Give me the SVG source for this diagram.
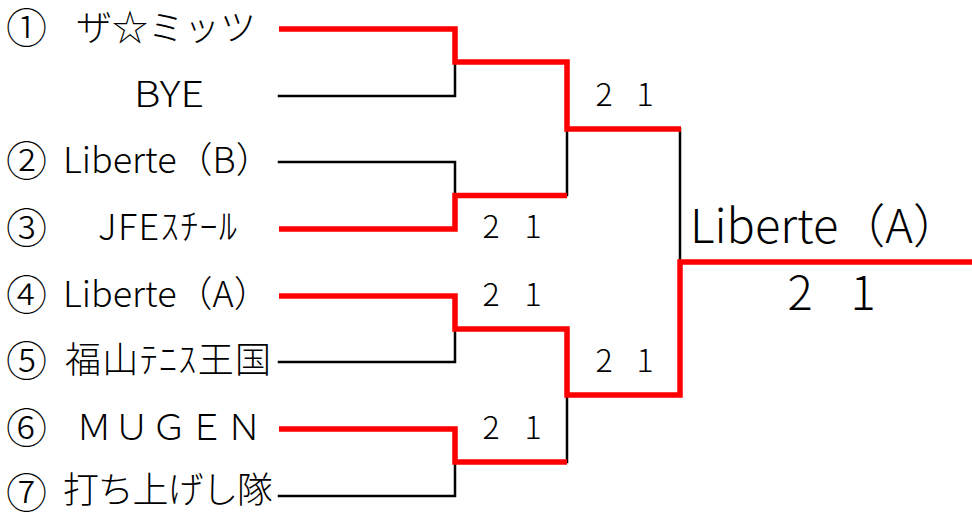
<svg xmlns="http://www.w3.org/2000/svg" width="972" height="514" viewBox="0 0 972 514">
<style>
.lbl{font-family:"Noto Sans CJK JP","Noto Sans CJK SC",sans-serif;font-size:36px;font-weight:300;fill:#000}
.num{font-family:"Noto Sans CJK JP","Noto Sans CJK SC",sans-serif;font-size:41px;font-weight:300;fill:#000}
.sc{font-family:"Noto Sans CJK JP","Noto Sans CJK SC",sans-serif;font-size:32px;font-weight:300;fill:#000;text-anchor:middle}
.big{font-family:"Noto Sans CJK JP","Noto Sans CJK SC",sans-serif;font-size:47px;font-weight:300;fill:#000}
.bk{fill:none;stroke:#000;stroke-width:2.5;stroke-linecap:square}
.rd{fill:none;stroke:#ff0000;stroke-width:5.5;stroke-linejoin:miter;stroke-linecap:butt}
</style>
<rect width="972" height="514" fill="#fff"/>
<g id="connectors">
<path class="bk" d="M279,96H455V62"/>
<path class="bk" d="M279,162H455V195"/>
<path class="bk" d="M567,129V195"/>
<path class="bk" d="M279,362H455V329"/>
<path class="bk" d="M279,496H455V462"/>
<path class="bk" d="M567,395V462"/>
<path class="bk" d="M680,129V262"/>
<path class="rd" d="M279,29H455V62H567V129H681"/>
<path class="rd" d="M279,229H455V195.5H567"/>
<path class="rd" d="M279,296H455V329H567V395H680V262H972"/>
<path class="rd" d="M279,429H455V462H567"/>
</g>
<g id="team1"><text class="num" x="6" y="43">①</text><text class="lbl" x="76" y="41">ザ☆ミッツ</text></g>
<g id="team-bye"><text class="lbl" x="134" y="107" textLength="70" lengthAdjust="spacingAndGlyphs">BYE</text></g>
<g id="team2"><text class="num" x="6" y="176">②</text><text class="lbl" x="63" y="173">Liberte（B）</text></g>
<g id="team3"><text class="num" x="6" y="243">③</text><text class="lbl" x="98" y="240" textLength="139">JFEｽﾁｰﾙ</text></g>
<g id="team4"><text class="num" x="6" y="310">④</text><text class="lbl" x="63" y="307">Liberte（A）</text></g>
<g id="team5"><text class="num" x="6" y="376">⑤</text><text class="lbl" x="65" y="373" textLength="206">福山ﾃﾆｽ王国</text></g>
<g id="team6"><text class="num" x="6" y="443">⑥</text><text class="lbl" x="76" y="440" textLength="186">ＭＵＧＥＮ</text></g>
<g id="team7"><text class="num" x="6" y="508">⑦</text><text class="lbl" x="63" y="503" textLength="210">打ち上げし隊</text></g>
<g id="score-r1-top"><text class="sc" y="106"><tspan x="604">2</tspan><tspan x="645">1</tspan></text></g>
<g id="score-m2"><text class="sc" y="238"><tspan x="491">2</tspan><tspan x="533">1</tspan></text></g>
<g id="score-m3"><text class="sc" y="306"><tspan x="491">2</tspan><tspan x="533">1</tspan></text></g>
<g id="score-r1-bottom"><text class="sc" y="372"><tspan x="604">2</tspan><tspan x="645">1</tspan></text></g>
<g id="score-m4"><text class="sc" y="439"><tspan x="491">2</tspan><tspan x="533">1</tspan></text></g>
<g id="champion"><text class="big" x="690" y="243">Liberte（A）</text><text class="big" y="310" text-anchor="middle"><tspan x="800">2</tspan><tspan x="863">1</tspan></text></g>
</svg>
